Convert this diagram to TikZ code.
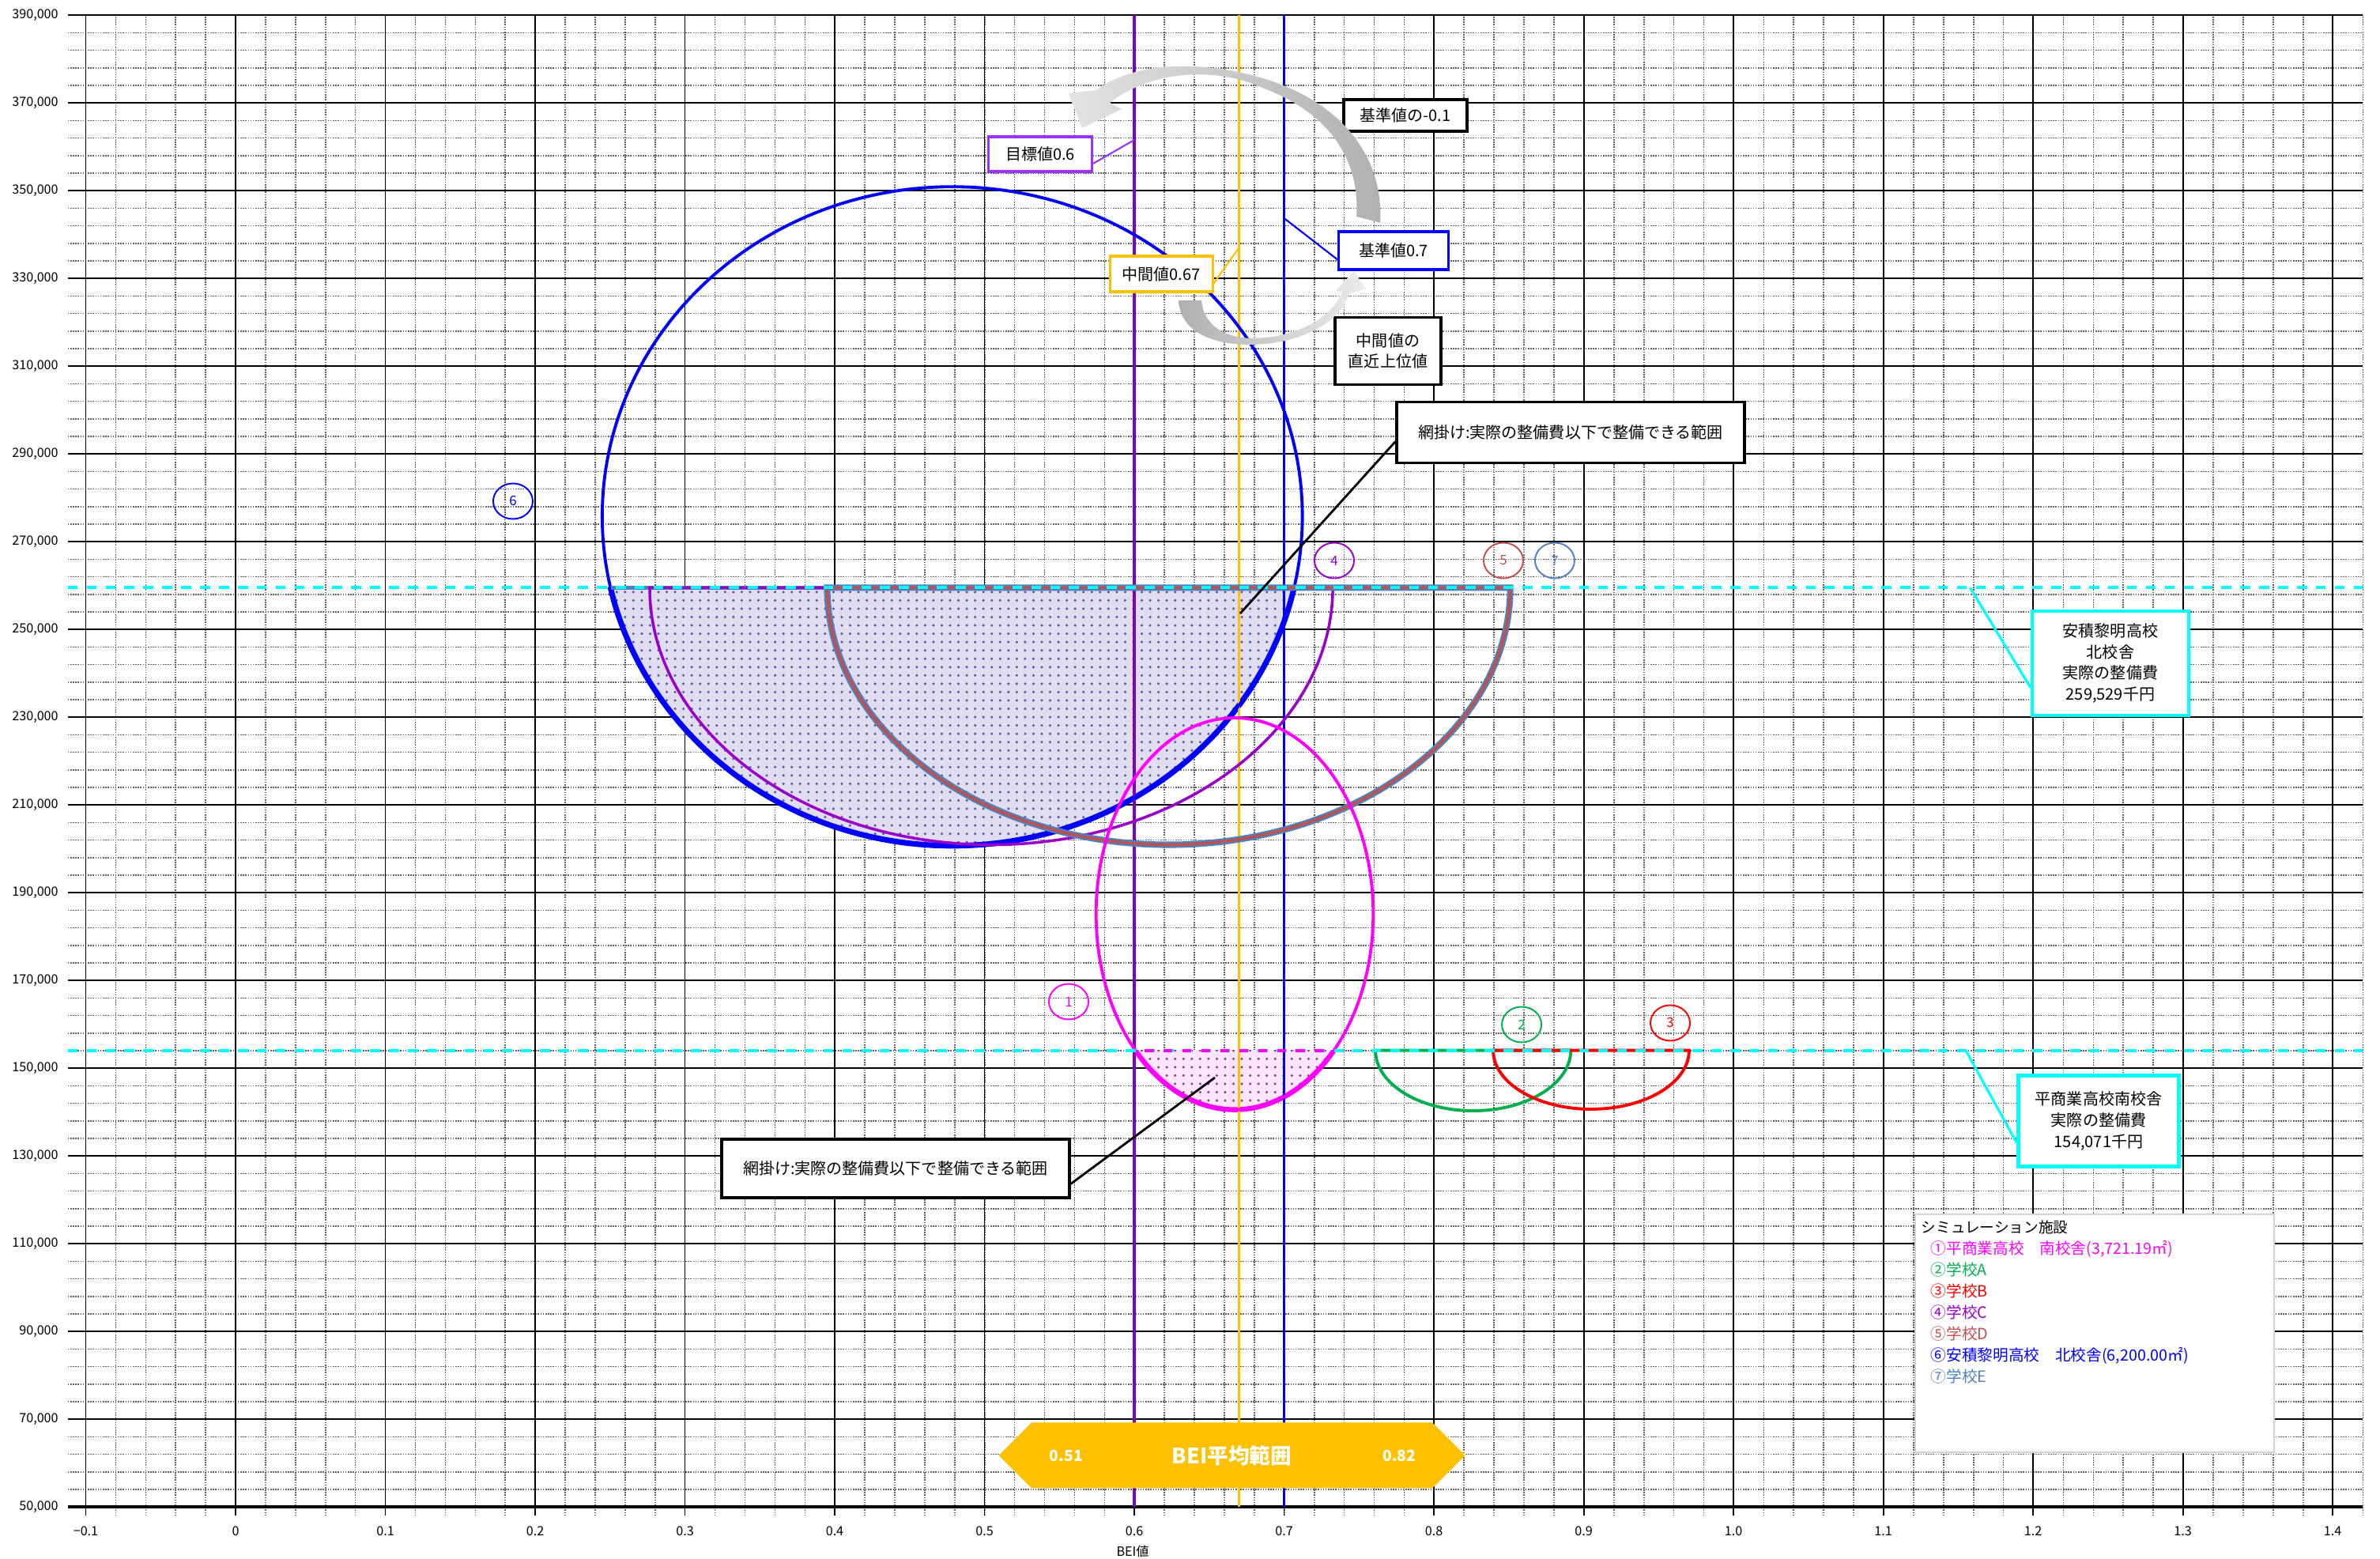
\documentclass[tikz,border=0pt]{standalone}
\usepackage{fontspec}
\setmainfont{Noto Sans CJK JP}
\usetikzlibrary{positioning, shapes.geometric, shapes.symbols, patterns}
\definecolor{GoalPurple}{HTML}{9933FF}
\definecolor{LinePurple}{HTML}{8000C0}
\definecolor{MidOrange}{HTML}{FFC000}
\definecolor{SchoolPink}{HTML}{FF00FF}
\definecolor{SchoolGreen}{HTML}{00B050}
\definecolor{SchoolRed}{HTML}{FF0000}
\definecolor{SchoolC}{HTML}{9900CC}
\definecolor{SchoolD}{HTML}{C0504D}
\definecolor{SchoolBlue}{HTML}{0000FF}
\definecolor{SchoolE}{HTML}{4F81BD}
\definecolor{RangeCyan}{HTML}{00FFFF}
\definecolor{HatchBlue}{HTML}{E0DDF0}
\definecolor{HatchPink}{HTML}{FFE4FF}

\begin{document}
\begin{tikzpicture}[
    font=\fontsize{5.7}{7.6}\selectfont,
    minorline/.style={gray!75!black, line width=0.45pt, dash pattern=on 0.45pt off 0.45pt},
    majorline/.style={black, line width=0.5pt},
    axlabel/.style={font=\fontsize{4.6}{5}\selectfont, inner sep=0pt},
    callout/.style={draw, fill=white, line width=0.9pt, inner sep=0pt, align=center},
    numtag/.style={ellipse, draw, line width=0.55pt, minimum width=0.5cm, minimum height=0.45cm, inner sep=0pt, font=\fontsize{4.8}{5}\selectfont},
    bannernum/.style={inner sep=0pt, text=white, font=\bfseries\fontsize{5.5}{6}\selectfont}
  ]
  \useasboundingbox (0,0) rectangle (30.11,19.72);

  % chart area: x = BEI value, y = cost / 10000
  \begin{scope}[x=18.95cm, y=0.555cm, shift={(2.98cm,-2.117cm)}]
    % grid
    \foreach \i in {0,...,76} {
      \pgfmathsetmacro{\x}{-0.1+0.02*\i}
      \draw[minorline] (\x,4.8) -- (\x,39);
    }
    \foreach \j in {0,...,85} {
      \pgfmathsetmacro{\y}{5+0.4*\j}
      \draw[minorline] (-0.112,\y) -- (1.42,\y);
    }
    \foreach \i in {0,...,15}
      \draw[majorline] (-0.1+0.1*\i,4.8) -- (-0.1+0.1*\i,39);
    \foreach \j in {0,...,17}
      \draw[majorline] (-0.112,5+2*\j) -- (1.42,5+2*\j);
    \draw[black, line width=1pt] (-0.112,5) -- (1.42,5);

    % axis labels
    \foreach \k in {5,7,...,39}
      \node[axlabel, anchor=east] (ylab\k) at (-0.118,\k) {\k0,000};
    \foreach \v/\t [count=\n] in {-0.1/{−0.1},0/0,0.1/0.1,0.2/0.2,0.3/0.3,0.4/0.4,0.5/0.5,0.6/0.6,0.7/0.7,0.8/0.8,0.9/0.9,1.0/1.0,1.1/1.1,1.2/1.2,1.3/1.3,1.4/1.4}
      \node[axlabel] (xlab\n) at (\v,4.447) {\t};
    \node[axlabel] (xtitle) at (0.599,3.995) {BEI値};

    % hatched areas
    \begin{scope}
      \clip (-0.1,5) rectangle (1.42,25.9529);
      \fill[HatchBlue, postaction={pattern=dots, pattern color=blue!30!gray}] (0.4785,27.58) ellipse [x radius=0.2337, y radius=7.51];
      \draw[SchoolBlue, line width=2pt] (0.4785,27.58) ellipse [x radius=0.2337, y radius=7.51];
    \end{scope}
    \begin{scope}
      \clip (-0.1,5) rectangle (1.42,15.4071);
      \fill[HatchPink, postaction={pattern=dots, pattern color=violet!40!gray}] (0.667,18.52) ellipse [x radius=0.0925, y radius=4.465];
      \draw[SchoolPink, line width=1.8pt] (0.667,18.52) ellipse [x radius=0.0925, y radius=4.465];
    \end{scope}

    % BEI reference lines
    \draw[LinePurple, line width=1.4pt] (0.6,5) -- (0.6,39);
    \draw[MidOrange, line width=0.85pt] (0.67,5) -- (0.67,39);
    \draw[SchoolBlue, line width=0.85pt] (0.7,5) -- (0.7,39);

    % schools
    \draw[SchoolBlue, line width=1.1pt] (0.4785,27.58) ellipse [x radius=0.2337, y radius=7.51];
    \draw[SchoolE, line width=1.6pt] (0.2504,25.9529) -- (0.7066,25.9529);
    \draw[SchoolC, line width=1pt] (0.2765,25.9529) arc[start angle=180, end angle=360, x radius=0.228, y radius=5.86] -- cycle;
    \draw[SchoolE, line width=2.3pt] (0.395,25.9529) arc[start angle=180, end angle=360, x radius=0.228, y radius=5.86] -- cycle;
    \draw[SchoolD, line width=1pt] (0.395,25.9529) arc[start angle=180, end angle=360, x radius=0.228, y radius=5.86] -- cycle;
    \draw[SchoolPink, line width=1.1pt] (0.667,18.52) ellipse [x radius=0.0925, y radius=4.465];
    \draw[SchoolGreen, line width=1.1pt] (0.761,15.4071) arc[start angle=180, end angle=360, x radius=0.0652, y radius=1.377] -- cycle;
    \draw[SchoolRed, line width=1.1pt] (0.8396,15.4071) arc[start angle=180, end angle=360, x radius=0.0654, y radius=1.34] -- cycle;

    % actual cost lines
    \draw[RangeCyan, line width=1.1pt, dash pattern=on 3.6pt off 3.2pt] (-0.112,25.9529) -- (1.42,25.9529);
    \draw[RangeCyan, line width=1.1pt, dash pattern=on 3.6pt off 3.2pt] (-0.112,15.4071) -- (1.42,15.4071);
    \draw[SchoolPink, line width=1.1pt, dash pattern=on 3.2pt off 3.6pt, dash phase=-3.4pt] (0.6007,15.4071) -- (0.7333,15.4071);

    % number tags
    \node[numtag, draw=SchoolPink, text=SchoolPink] (tag1) at (0.5562,16.517) {1};
    \node[numtag, draw=SchoolGreen, text=SchoolGreen] (tag2) at (0.8586,15.995) {2};
    \node[numtag, draw=SchoolRed, text=SchoolRed] (tag3) at (0.9578,16.031) {3};
    \node[numtag, draw=SchoolC, text=SchoolC] (tag4) at (0.7335,26.571) {4};
    \node[numtag, draw=SchoolD, text=SchoolD] (tag5) at (0.8464,26.571) {5};
    \node[numtag, draw=SchoolBlue, text=SchoolBlue] (tag6) at (0.1852,27.923) {6};
    \node[numtag, draw=SchoolE, text=SchoolE] (tag7) at (0.8807,26.571) {7};

    % callouts
    \coordinate (goalpt) at (0.6,36.157);
    \coordinate (basept) at (0.7,34.373);
    \coordinate (midpt) at (0.67,33.706);
    \coordinate (meshNpt) at (0.6707,25.364);
    \coordinate (meshSpt) at (0.6538,14.787);
    \coordinate (cyanN) at (1.158,25.9529);
    \coordinate (cyanS) at (1.1551,15.4071);

    \node[callout, draw=GoalPurple, minimum width=1.31cm, minimum height=0.44cm] (goal) at (0.5372,35.832) {目標値0.6};
    \node[callout, minimum width=1.56cm, minimum height=0.40cm] (minus) at (0.781,36.715) {基準値の-0.1};
    \node[callout, draw=SchoolBlue, minimum width=1.39cm, minimum height=0.48cm] (base) at (0.7731,33.634) {基準値0.7};
    \node[callout, draw=MidOrange, minimum width=1.30cm, minimum height=0.45cm] (mid) at (0.618,33.103) {中間値0.67};
    \node[callout, minimum width=1.34cm, minimum height=0.85cm] (upper) at (0.7694,31.346) {中間値の\\直近上位値};
    \node[callout, line width=1pt, minimum width=4.4cm, minimum height=0.77cm] (meshN) at (0.8913,29.490) {網掛け:実際の整備費以下で整備できる範囲};
    \node[callout, line width=1pt, minimum width=4.4cm, minimum height=0.74cm] (meshS) at (0.4406,12.715) {網掛け:実際の整備費以下で整備できる範囲};
    \node[callout, draw=RangeCyan, line width=1.2pt, minimum width=1.98cm, minimum height=1.32cm] (costN) at (1.2517,24.229) {安積黎明高校\\北校舎\\実際の整備費\\259,529千円};
    \node[callout, draw=RangeCyan, line width=1.2pt, minimum width=2.03cm, minimum height=1.15cm] (costS) at (1.2438,13.796) {平商業高校南校舎\\実際の整備費\\154,071千円};

    \draw[GoalPurple, line width=0.6pt] (goal.-10) -- (goalpt);
    \draw[SchoolBlue, line width=0.6pt] (base.189) -- (basept);
    \draw[MidOrange, line width=0.6pt] (mid.-10) -- (midpt);
    \draw[line width=0.8pt] (meshN.183) -- (meshNpt);
    \draw[line width=0.8pt] (meshS.-5) -- (meshSpt);
    \draw[RangeCyan, line width=0.9pt] (costN.197) -- (cyanN);
    \draw[RangeCyan, line width=0.9pt] (costS.195) -- (cyanS);

    % legend
    \node[draw=gray!35, line width=0.6pt, fill=white, minimum width=4.54cm, minimum height=3.01cm, inner sep=0pt] (legend) at (1.2412,8.958) {};
    \node[anchor=north west, align=left, inner sep=0pt, font=\fontsize{5.6}{7.7}\selectfont] (legendtext) at ([xshift=0.08cm, yshift=-0.08cm]legend.north west) {%
      {\fontsize{5.3}{7.7}\selectfont シミュレーション施設}\\
      \hspace*{0.12cm}\textcolor{SchoolPink}{①平商業高校　南校舎(3,721.19㎡)}\\
      \hspace*{0.12cm}\textcolor{SchoolGreen}{②学校A}\\
      \hspace*{0.12cm}\textcolor{SchoolRed}{③学校B}\\
      \hspace*{0.12cm}\textcolor{SchoolC}{④学校C}\\
      \hspace*{0.12cm}\textcolor{SchoolD}{⑤学校D}\\
      \hspace*{0.12cm}\textcolor{SchoolBlue}{⑥安積黎明高校　北校舎(6,200.00㎡)}\\
      \hspace*{0.12cm}\textcolor{SchoolE}{⑦学校E}};

    % BEI average range
    \node[signal, signal to=west and east, fill=MidOrange, minimum width=5.9cm, minimum height=0.83cm, inner sep=0pt, text=white, font=\bfseries\fontsize{7.6}{9}\selectfont] (banner) at (0.6652,6.175) {BEI平均範囲};
    \node[bannernum, right=0.645cm of banner.west] (lo) {0.51};
    \node[bannernum, left=0.625cm of banner.east] (hi) {0.82};
  \end{scope}

  % curved arrows (pixel frame)
  \begin{scope}[x=0.01cm, y=-0.01cm, shift={(0,19.72cm)}]
    \shade[left color=gray!22, right color=gray!62]
      (1747,282) .. controls (1752,200) and (1700,138) .. (1624,108)
      .. controls (1560,82) and (1450,68) .. (1388,114)
      -- (1352,118) -- (1370,162) -- (1420,138) -- (1405,130)
      .. controls (1462,86) and (1545,86) .. (1600,112)
      .. controls (1680,142) and (1722,200) .. (1717,274) -- cycle;
    \shade[left color=gray!62, right color=gray!15]
      (1492,380) .. controls (1494,425) and (1545,438) .. (1590,436)
      .. controls (1645,434) and (1696,410) .. (1708,371)
      -- (1729,366) -- (1714,343) -- (1691,368) -- (1699,369)
      .. controls (1687,403) and (1640,426) .. (1592,428)
      .. controls (1552,430) and (1523,412) .. (1521,380) -- cycle;
  \end{scope}
\end{tikzpicture}
\end{document}
